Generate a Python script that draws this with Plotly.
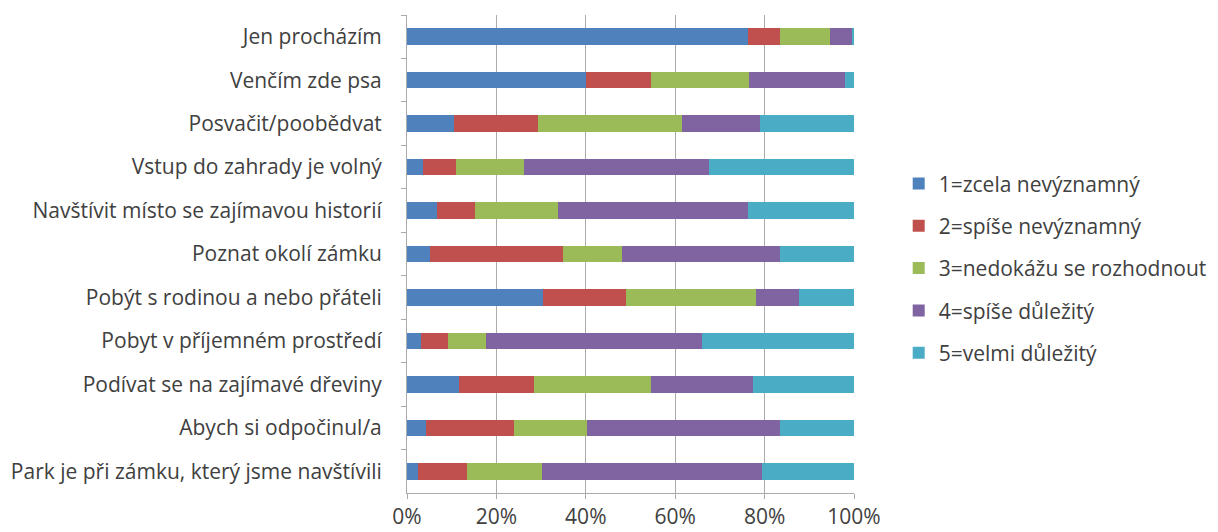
import plotly.graph_objects as go

categories = [
    "Jen procházím",
    "Venčím zde psa",
    "Posvačit/poobědvat",
    "Vstup do zahrady je volný",
    "Navštívit místo se zajímavou historií",
    "Poznat okolí zámku",
    "Pobýt s rodinou a nebo přáteli",
    "Pobyt v příjemném prostředí",
    "Podívat se na zajímavé dřeviny",
    "Abych si odpočinul/a",
    "Park je při zámku, který jsme navštívili",
]

series_names = [
    "1=zcela nevýznamný",
    "2=spíše nevýznamný",
    "3=nedokážu se rozhodnout",
    "4=spíše důležitý",
    "5=velmi důležitý",
]

s1 = [76.3, 40.1, 10.5, 3.5, 6.7, 5.2, 30.5, 3.2, 11.6, 4.2, 2.5]
s2 = [7.1, 14.5, 18.9, 7.4, 8.4, 29.7, 18.4, 6.0, 16.7, 19.7, 11.0]
s3 = [11.3, 22.0, 32.1, 15.3, 18.7, 13.1, 29.2, 8.4, 26.2, 16.4, 16.8]
s4 = [4.8, 21.3, 17.5, 41.3, 42.5, 35.4, 9.7, 48.3, 23.0, 43.1, 49.1]
s5 = [0.5, 2.1, 21.0, 32.5, 23.7, 16.6, 12.2, 34.1, 22.5, 16.6, 20.6]

x_ticks = [0, 20, 40, 60, 80, 100]
x_tick_labels = ["0%", "20%", "40%", "60%", "80%", "100%"]

colors = ["#4F81BD", "#C0504D", "#9BBB59", "#8064A2", "#4BACC6"]

fig = go.Figure()
for name, vals, col in zip(series_names, [s1, s2, s3, s4, s5], colors):
    fig.add_trace(go.Bar(
        y=categories, x=vals, name=name, orientation="h",
        marker=dict(color=col, line=dict(width=0)),
        legendgroup=name,
    ))

font_family = "Open Sans, Liberation Sans, sans-serif"
fig.update_layout(
    barmode="stack",
    bargap=0.62,
    width=1218, height=532,
    margin=dict(l=399, r=372, t=7, b=47, autoexpand=False),
    paper_bgcolor="white", plot_bgcolor="white",
    font=dict(family=font_family, size=21, color="#404040"),
    legend=dict(
        x=1.1, xanchor="left", y=0.47, yanchor="middle",
        traceorder="grouped", tracegroupgap=12,
        font=dict(size=21, color="#404040"),
        itemwidth=30,
    ),
    showlegend=True,
)
fig.update_xaxes(
    range=[0, 100], tickvals=x_ticks, ticktext=x_tick_labels,
    showgrid=True, gridcolor="#ABABAB", gridwidth=1,
    showline=True, linecolor="#ABABAB", linewidth=1,
    ticks="outside", ticklen=5, tickcolor="#ABABAB",
    zeroline=False, fixedrange=True, automargin=False,
    tickfont=dict(size=21, color="#404040"),
)
fig.update_yaxes(
    autorange="reversed", categoryorder="array", categoryarray=categories,
    showline=True, linecolor="#ABABAB", linewidth=1,
    ticks="outside", ticklen=5, tickcolor="#ABABAB", tickson="boundaries",
    ticklabelstandoff=20, automargin=False,
    tickfont=dict(size=21, color="#404040"),
    showgrid=False,
)

fig.write_html("out.html")
